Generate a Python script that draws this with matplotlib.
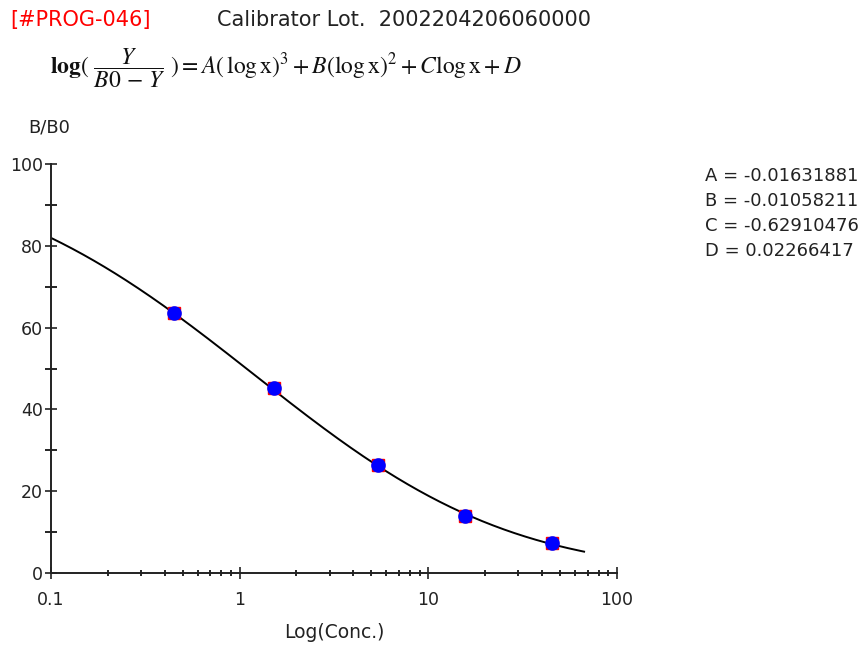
import numpy as np
import matplotlib.pyplot as plt
from matplotlib.ticker import LogLocator, FixedLocator, MultipleLocator

# calibrator points (conc, B/B0 %)
conc = [0.45, 1.52, 5.4, 15.6, 45.2]
bb0 = [63.5, 45.2, 26.5, 14.0, 7.3]

# fitted coefficients shown on the chart
coef_A = -0.01631881
coef_B = -0.01058211
coef_C = -0.62910476
coef_D = 0.02266417
curve_range = [0.1, 67.0]

plt.rcParams['font.family'] = ['DejaVu Sans']
plt.rcParams['mathtext.fontset'] = 'stix'

fig = plt.figure(figsize=(8.64, 6.54), dpi=100)
ax = fig.add_axes([0.059, 0.124, 0.655, 0.625])

# fitted curve from the coefficients
lx = np.linspace(np.log10(curve_range[0]), np.log10(curve_range[1]), 300)
rhs = coef_A * lx**3 + coef_B * lx**2 + coef_C * lx + coef_D
r = 10**rhs
y_fit = 100 * r / (1 + r)
ax.plot(10**lx, y_fit, color='black', lw=1.4, zorder=2)

ax.plot(conc, bb0, 's', color='red', ms=8, zorder=3)
ax.plot(conc, bb0, 'o', color='blue', ms=9.5, zorder=4)

ax.set_xscale('log')
ax.set_xlim(0.1, 100)
ax.set_ylim(0, 100)
ax.xaxis.set_major_locator(FixedLocator([0.1, 1, 10, 100]))
ax.xaxis.set_minor_locator(LogLocator(base=10, subs=np.arange(2, 10)))
ax.set_xticklabels(['0.1', '1', '10', '100'])
ax.yaxis.set_major_locator(MultipleLocator(20))
ax.yaxis.set_minor_locator(MultipleLocator(10))

for s in ['top', 'right']:
    ax.spines[s].set_visible(False)
for s in ['left', 'bottom']:
    ax.spines[s].set_linewidth(1.4)
    ax.spines[s].set_color('#222222')

ax.tick_params(axis='both', which='major', direction='inout', length=8,
               width=1.2, labelsize=12.5, colors='#222222')
ax.tick_params(axis='x', which='minor', direction='inout', length=4, width=1.2)
ax.tick_params(axis='y', which='minor', direction='inout', length=8, width=1.2)
ax.tick_params(axis='x', which='major', pad=9)
ax.tick_params(axis='y', which='major', pad=2)

ax.set_xlabel('Log(Conc.)', fontsize=13.5, labelpad=10, color='#222222')

fig.text(10 / 864, 1 - 20 / 654, '[#PROG-046]', color='red', fontsize=15, va='center')
fig.text(217 / 864, 1 - 20 / 654, 'Calibrator Lot.  2002204206060000', color='#222222',
         fontsize=15, va='center')
fig.text(50 / 864, 1 - 68 / 654,
         r'$\mathbf{log}(\ \dfrac{Y}{B0\,-\,Y}\ ) = A(\,\mathrm{log\,x})^3 + B(\mathrm{log\,x})^2 + C\mathrm{log\,x} + D$',
         fontsize=17, va='center', color='#111111')
fig.text(28 / 864, 1 - 128 / 654, 'B/B0', fontsize=13, va='center', color='#222222')

coef_labels = ['A = %.8f' % coef_A, 'B = %.8f' % coef_B,
               'C = %.8f' % coef_C, 'D = %.8f' % coef_D]
for i, t in enumerate(coef_labels):
    fig.text(705 / 864, 1 - (176 + 25 * i) / 654, t, fontsize=13, va='center',
             color='#222222')

fig.savefig('out.png', dpi=100)
